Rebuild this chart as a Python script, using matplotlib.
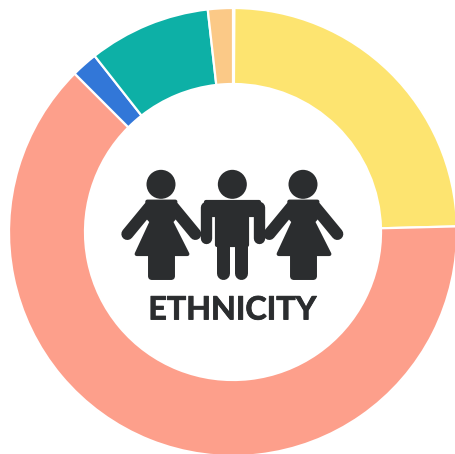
import matplotlib
matplotlib.use("Agg")
import matplotlib.pyplot as plt
import matplotlib.patheffects as pe
from matplotlib.patches import Circle, Polygon

# clockwise from the top, share of the ring in percent
categories = ["gap", "yellow", "salmon", "blue", "teal", "orange"]
values = [0.1, 24.5, 62.9, 1.9, 8.8, 1.8]
colors = ["#ffffff", "#fde470", "#fd9f8b", "#3277d8", "#0db0a6", "#fbc987"]
title = "ETHNICITY"

DARK = "#2b2d2f"
W, H = 455, 454

fig = plt.figure(figsize=(W / 100, H / 100), dpi=100, facecolor="w")

# pie is drawn on its own axes so the y axis is not flipped
ax2 = fig.add_axes([0, 0, 1, 1])
ax2.pie(values, colors=colors, startangle=90, counterclock=False,
        center=(233, H - 232), radius=224, frame=True,
        wedgeprops=dict(width=76, edgecolor="w", linewidth=1.6))
ax2.set_xlim(0, W)
ax2.set_ylim(0, H)
ax2.set_aspect("auto")
ax2.axis("off")

ax = fig.add_axes([0, 0, 1, 1])
ax.set_xlim(0, W)
ax.set_ylim(H, 0)
ax.axis("off")


def px(x, y):
    # zoom-crop coordinates back to image pixels
    return 110 + x / 3, 150 + y / 3


def shape(pts, lw=3):
    ax.add_patch(Polygon([px(x, y) for x, y in pts], closed=True, fc=DARK, ec=DARK,
                         lw=lw, joinstyle="round"))


def limb(p1, p2, w):
    x1, y1 = px(*p1)
    x2, y2 = px(*p2)
    ax.plot([x1, x2], [y1, y2], color=DARK, lw=w / 3 * 0.72, solid_capstyle="round")


def head(x):
    ax.add_patch(Circle(px(x, 103), 14.5, fc=DARK, ec="none"))


def woman(dx):
    head(153 + dx)
    shape([(x + dx, y) for x, y in [(112, 155), (196, 155), (192, 205), (183, 215),
                                    (232, 312), (80, 312), (125, 215), (116, 205)]])
    limb((118 + dx, 172), (52 + dx, 252), 36)
    limb((190 + dx, 172), (256 + dx, 252), 36)
    # single leg column, only the bottom corners rounded
    shape([(x + dx, y) for x, y in [(124, 300), (184, 300), (184, 378), (124, 378)]], lw=5)


woman(0)
woman(426)

# man in the middle
head(367)
shape([(288, 155), (446, 155), (446, 196), (288, 196)])
shape([(322, 190), (411, 190), (411, 285), (322, 285)])
limb((288, 172), (288, 264), 34)
limb((446, 172), (446, 264), 34)
limb((339, 270), (339, 368), 39)
limb((394, 270), (394, 368), 39)

ax.text(232.5, 310, title, ha="center", va="center", fontsize=23.2,
        fontfamily="Lato", fontweight="bold", color=DARK,
        path_effects=[pe.withStroke(linewidth=0.6, foreground=DARK)])

fig.savefig("out.png", dpi=100)
